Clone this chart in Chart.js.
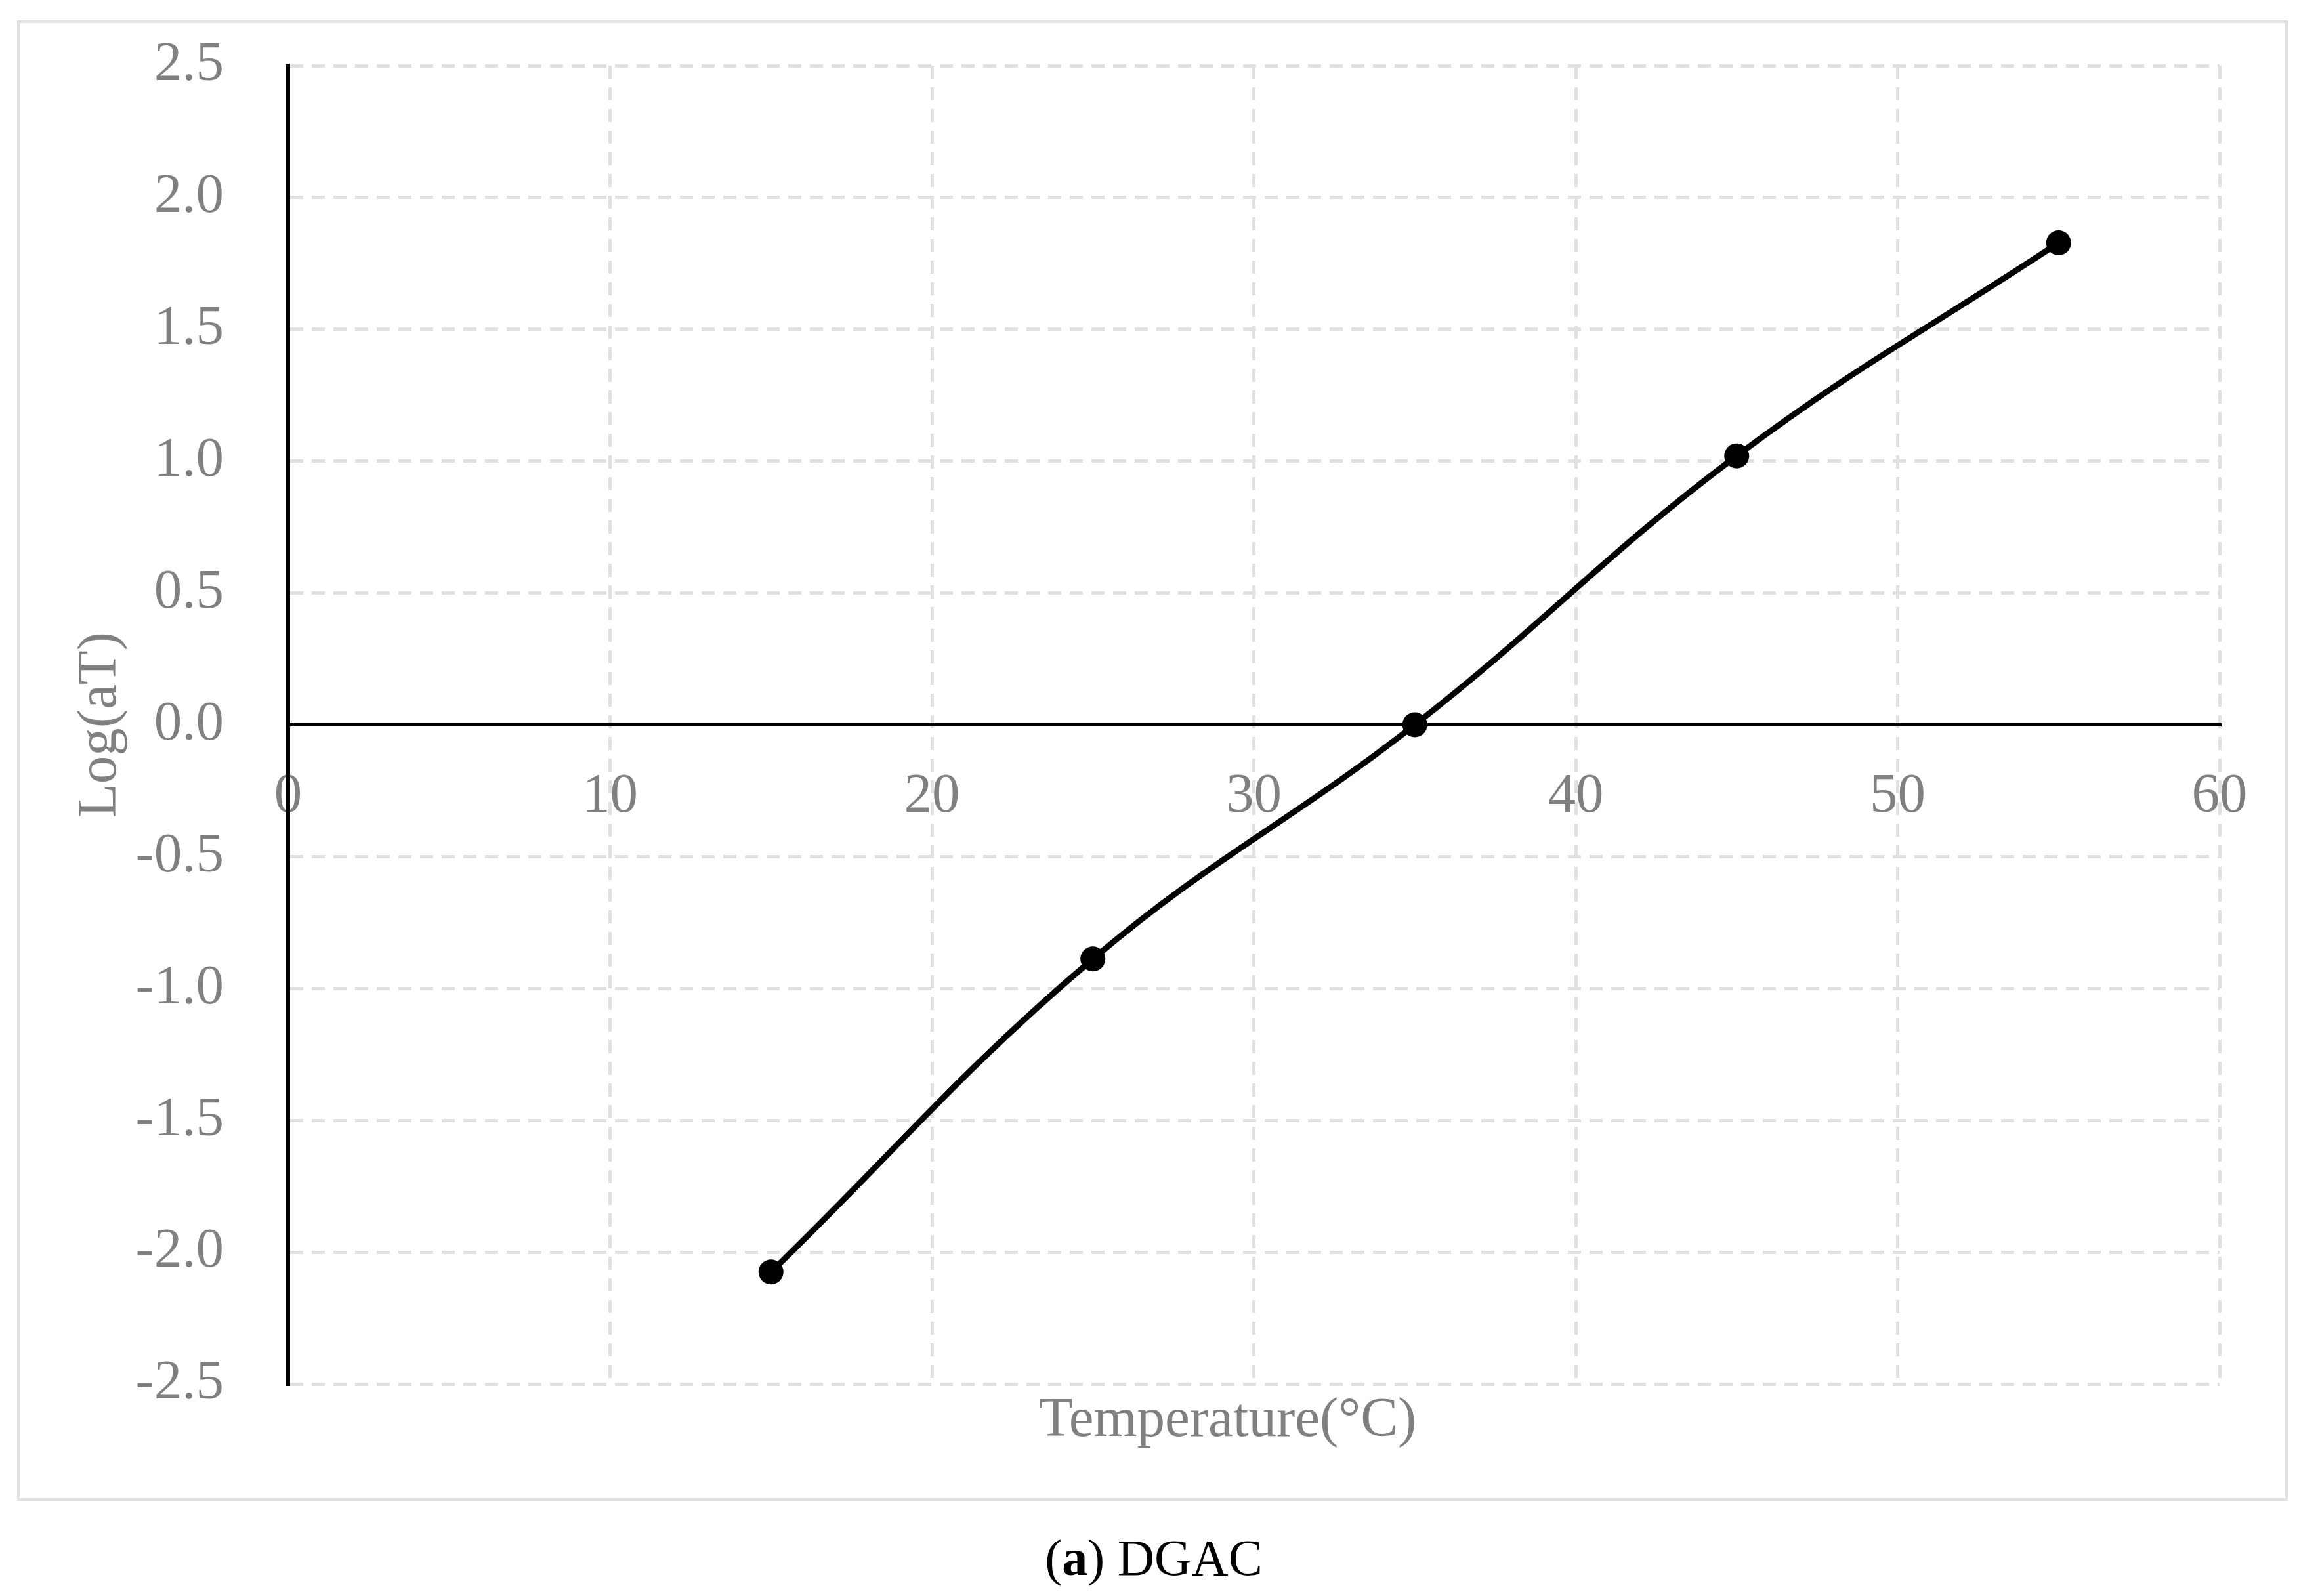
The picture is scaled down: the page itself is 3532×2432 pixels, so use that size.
<!DOCTYPE html>
<html>
<head>
<meta charset="utf-8">
<title>Log(aT) - DGAC</title>
<script src="https://cdn.jsdelivr.net/npm/chart.js@4.4.1/dist/chart.umd.min.js"></script>
<style>
    html, body { margin: 0; padding: 0; background: #fff; }
    #wrap { position: relative; width: 3532px; height: 2432px; overflow: hidden; }
    #frame {
        position: absolute; left: 26px; top: 31px; width: 3460px; height: 2256px;
        border: 4px solid #e2e2e2; box-sizing: border-box;
    }
    #chart { position: absolute; left: 0; top: 0; }
    #caption {
        position: absolute; left: 0; top: 2335px; width: 3516px; text-align: center;
        font: 78px/78px "Liberation Serif", "Times New Roman", serif; color: #000;
    }
</style>
</head>
<body>
<div id="wrap">
    <div id="frame"></div>
    <canvas id="chart" width="3532" height="2432"></canvas>
    <div id="caption">(<b>a</b>) DGAC</div>
</div>
<script>
    // values
    var temperatures = [15, 25, 35, 45, 55];
    var logAT = [-2.075, -0.888, 0, 1.02, 1.828];

    var xTicks = [0, 10, 20, 30, 40, 50, 60];
    var yTicks = [-2.5, -2.0, -1.5, -1.0, -0.5, 0, 0.5, 1.0, 1.5, 2.0, 2.5];
    var yTickLabels = ['-2.5', '-2.0', '-1.5', '-1.0', '-0.5', '0.0', '0.5', '1.0', '1.5', '2.0', '2.5'];

    var xTitle = 'Temperature(°C)';
    var yTitle = 'Log(aT)';

    var serif = '"Liberation Serif", "Times New Roman", serif';
    var grey = '#808080';
    var gridGrey = '#e1e1e1';

    /**
     * xTitlePlugin
     * draws the x axis title under the plot, the x axis itself sits at y = 0
     **/
    var xTitlePlugin = {
        id: 'xTitle',
        afterDraw: function (chart, args, opts) {
            var ctx = chart.ctx, area = chart.chartArea;

            ctx.save();
            ctx.font = opts.size + 'px ' + serif;
            ctx.fillStyle = opts.color;
            ctx.textAlign = 'center';
            ctx.textBaseline = 'alphabetic';
            ctx.fillText(opts.text, (area.left + area.right) / 2 + opts.offsetX, area.bottom + opts.offsetY);
            ctx.restore();
        }
    };

    var points = temperatures.map(function (t, i) {
        return {x: t, y: logAT[i]};
    });

    new Chart(document.getElementById('chart'), {
        type: 'line',
        data: {
            datasets: [{
                data: points,
                borderColor: '#000',
                borderWidth: 9,
                backgroundColor: '#000',
                pointRadius: 19,
                pointBackgroundColor: '#000',
                pointBorderWidth: 0,
                tension: 0.4,
                fill: false
            }]
        },
        options: {
            responsive: false,
            animation: false,
            devicePixelRatio: 1,
            layout: {
                padding: {left: 50, top: 100, right: 150, bottom: 323}
            },
            plugins: {
                legend: {display: false},
                tooltip: {enabled: false},
                xTitle: {text: xTitle, size: 85, color: grey, offsetX: -40, offsetY: 79}
            },
            scales: {
                x: {
                    type: 'linear',
                    position: {y: 0},
                    min: 0,
                    max: 60,
                    afterBuildTicks: function (scale) {
                        scale.ticks = xTicks.map(function (v) { return {value: v}; });
                    },
                    grid: {color: gridGrey, lineWidth: 5, drawTicks: false},
                    border: {color: '#000', width: 5, dash: [20, 13]},
                    ticks: {
                        color: grey,
                        padding: 59,
                        autoSkip: false,
                        maxRotation: 0,
                        font: {family: serif, size: 85}
                    }
                },
                y: {
                    type: 'linear',
                    position: 'left',
                    min: -2.5,
                    max: 2.5,
                    afterBuildTicks: function (scale) {
                        scale.ticks = yTicks.map(function (v) { return {value: v}; });
                    },
                    afterFit: function (scale) {
                        //pin the plot's left edge and drop the label overhang
                        scale.width = 389;
                        scale.paddingTop = 0;
                        scale.paddingBottom = 0;
                    },
                    grid: {color: gridGrey, lineWidth: 5, drawTicks: false},
                    border: {color: '#000', width: 6, dash: [20, 13]},
                    ticks: {
                        color: grey,
                        padding: 98,
                        autoSkip: false,
                        font: {family: serif, size: 85},
                        callback: function (value, index) {
                            return yTickLabels[index];
                        }
                    },
                    title: {
                        display: true,
                        text: yTitle,
                        color: grey,
                        padding: {top: 53, bottom: 0},
                        font: {family: serif, size: 85}
                    }
                }
            }
        },
        plugins: [xTitlePlugin]
    });
</script>
</body>
</html>
